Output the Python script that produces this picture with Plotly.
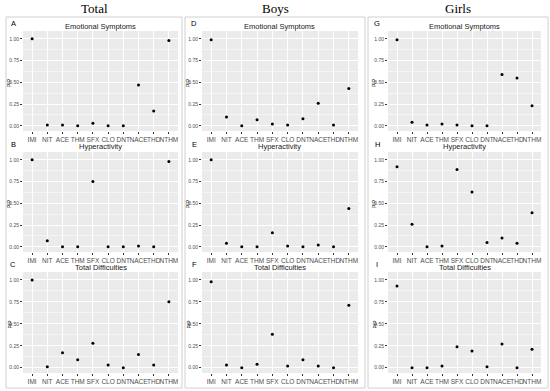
import plotly.graph_objects as go

categories = ["IMI", "NIT", "ACE", "THM", "SFX", "CLO", "DNT", "NACE", "THD", "NTHM"]
groups = ["Total", "Boys", "Girls"]
outcomes = ["Emotional Symptoms", "Hyperactivity", "Total Difficulties"]
letters = [["A", "B", "C"], ["D", "E", "F"], ["G", "H", "I"]]

total_es = [1.00, 0.01, 0.01, 0.00, 0.03, 0.00, 0.00, 0.47, 0.17, 0.98]
total_hy = [1.00, 0.07, 0.00, 0.00, 0.75, 0.00, 0.00, 0.01, 0.00, 0.98]
total_td = [1.00, 0.01, 0.17, 0.09, 0.28, 0.03, 0.00, 0.15, 0.03, 0.75]
boys_es = [0.99, 0.10, 0.00, 0.07, 0.02, 0.01, 0.08, 0.26, 0.01, 0.43]
boys_hy = [1.00, 0.04, 0.00, 0.00, 0.16, 0.01, 0.00, 0.02, 0.00, 0.44]
boys_td = [0.98, 0.03, 0.00, 0.04, 0.38, 0.02, 0.09, 0.02, 0.00, 0.71]
girls_es = [0.99, 0.04, 0.01, 0.02, 0.01, 0.00, 0.00, 0.59, 0.55, 0.23]
girls_hy = [0.92, 0.26, 0.00, 0.01, 0.89, 0.63, 0.05, 0.10, 0.04, 0.39]
girls_td = [0.93, 0.00, 0.00, 0.02, 0.24, 0.19, 0.01, 0.27, 0.00, 0.21]

y_ticks = [0, 0.25, 0.5, 0.75, 1.0]
y_ticklabels = ["0.00", "0.25", "0.50", "0.75", "1.00"]

data = [[total_es, total_hy, total_td],
        [boys_es, boys_hy, boys_td],
        [girls_es, girls_hy, girls_td]]

W, H = 550, 391
col_px = [(23, 178), (202, 358), (388, 541)]
row_px = [(31, 131), (152, 252), (272, 373)]
box_px = [(6, 182), (185, 365), (368, 548)]

def fx(p):
    return p / W

def fy(p):
    return 1 - p / H

fig = go.Figure()
annotations = []
shapes = []
layout = {}
idx = 0
for c in range(3):
    for r in range(3):
        idx += 1
        sfx = "" if idx == 1 else str(idx)
        fig.add_trace(go.Scatter(
            x=categories, y=data[c][r], mode="markers",
            marker=dict(color="black", size=3),
            xaxis="x" + sfx, yaxis="y" + sfx, showlegend=False,
            hoverinfo="x+y", cliponaxis=False))
        x0, x1 = col_px[c]
        y0, y1 = row_px[r]
        layout["xaxis" + sfx] = dict(
            domain=[fx(x0), fx(x1)], anchor="y" + sfx,
            type="category", categoryorder="array", categoryarray=categories,
            range=[-0.6, 9.6], autorange=False, automargin=False,
            showgrid=True, gridcolor="white", gridwidth=1,
            zeroline=False, showline=False, ticks="outside", ticklen=2,
            tickcolor="#333333", tickangle=0,
            tickfont=dict(family="Liberation Sans, Arial", size=6.5, color="#4D4D4D"),
            fixedrange=True)
        layout["yaxis" + sfx] = dict(
            domain=[fy(y1), fy(y0)], anchor="x" + sfx,
            range=[-0.06, 1.09], autorange=False, automargin=False,
            tickvals=y_ticks, ticktext=y_ticklabels,
            showgrid=True, gridcolor="white", gridwidth=1,
            minor=dict(tickvals=[0.125, 0.375, 0.625, 0.875], showgrid=True,
                       gridcolor="#F5F5F5", gridwidth=0.5),
            zeroline=False, showline=False, ticks="outside", ticklen=2,
            tickcolor="#333333",
            tickfont=dict(family="Liberation Sans, Arial", size=5, color="#4D4D4D"),
            fixedrange=True)
        shapes.append(dict(type="rect", xref="paper", yref="paper",
                           x0=fx(x0), x1=fx(x1), y0=fy(y1), y1=fy(y0),
                           fillcolor="#EBEBEB", line=dict(width=0), layer="below"))
        annotations.append(dict(text=outcomes[r], x=fx((x0 + x1) / 2), y=fy(y0 - 5),
                                xref="paper", yref="paper", showarrow=False,
                                xanchor="center", yanchor="middle",
                                font=dict(family="Liberation Sans, Arial", size=7.5, color="#1A1A1A")))
        annotations.append(dict(text=letters[c][r], x=fx(box_px[c][0] + 7 if c == 0 else box_px[c][0] + 9),
                                y=fy(y0 - 8), xref="paper", yref="paper", showarrow=False,
                                xanchor="center", yanchor="middle",
                                font=dict(family="Liberation Sans, Arial", size=7.5, color="#000000")))
        annotations.append(dict(text="PIP", x=fx(x0 - 14), y=fy((y0 + y1) / 2 + 2),
                                xref="paper", yref="paper", showarrow=False, textangle=-90,
                                xanchor="center", yanchor="middle",
                                font=dict(family="Liberation Sans, Arial", size=5, color="#000000")))
    bx0, bx1 = box_px[c]
    shapes.append(dict(type="rect", xref="paper", yref="paper",
                       x0=fx(bx0), x1=fx(bx1), y0=fy(388), y1=fy(17),
                       fillcolor="rgba(0,0,0,0)", line=dict(color="#D0D0D0", width=1)))
    annotations.append(dict(text=groups[c], x=fx((bx0 + bx1) / 2), y=fy(9),
                            xref="paper", yref="paper", showarrow=False,
                            xanchor="center", yanchor="middle",
                            font=dict(family="Liberation Serif, Times New Roman", size=13, color="#000000")))

fig.update_layout(**layout)
fig.update_layout(width=W, height=H, margin=dict(l=0, r=0, t=0, b=0, autoexpand=False),
                  paper_bgcolor="white", plot_bgcolor="rgba(0,0,0,0)",
                  shapes=shapes, annotations=annotations, showlegend=False)
fig.write_html("out.html", config={"displayModeBar": False},
               post_script="document.body.style.margin='0';document.body.style.padding='0';")
